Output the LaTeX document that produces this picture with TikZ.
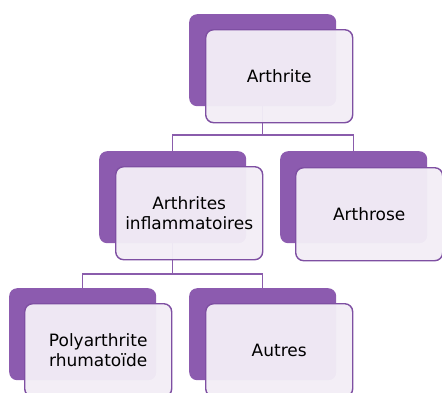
\documentclass[tikz,border=0pt]{standalone}
\usepackage{fontspec}
\setmainfont{DejaVu Sans}
\definecolor{backpurple}{HTML}{8C5BAF}
\definecolor{frontline}{HTML}{7E4FA2}
\definecolor{frontfill}{HTML}{F2EDF6}
\definecolor{connline}{HTML}{8A5CAC}
\tikzset{
  backbox/.style={rectangle, anchor=north west, minimum width=147pt, minimum height=92pt, inner sep=0pt, rounded corners=8pt, fill=backpurple, draw=none},
  frontbox/.style={rectangle, anchor=north west, minimum width=147pt, minimum height=93pt, inner sep=0pt, rounded corners=8pt, fill=frontfill, fill opacity=0.96, text opacity=1, draw=frontline, line width=1.4pt, align=center, font=\fontsize{17}{19.5}\selectfont},
  conn/.style={draw=connline, line width=1.4pt}
}
\begin{document}
\begin{tikzpicture}[x=1pt, y=-1pt]
\useasboundingbox (0,0) rectangle (442,392);
% back boxes
\node[backbox] (b1) at (189,14) {};
\node[backbox] (b2) at (99,151) {};
\node[backbox] (b3) at (280,151) {};
\node[backbox] (b4) at (9,288) {};
\node[backbox] (b5) at (189,288) {};
% junction coordinates
\coordinate (j1) at (262,135);
\coordinate (j2) at (172,274);
% connectors
\draw[conn] (b1.south) -- (b1.south |- j1);
\draw[conn] (b2.north) |- (j1) -| (b3.north);
\draw[conn] (b2.south) -- (b2.south |- j2);
\draw[conn] (b4.north) |- (j2) -| (b5.north);
% front boxes
\node[frontbox] (f1) at (205,29) {Arthrite};
\node[frontbox] (f2) at (115,166) {Arthrites\\inflammatoires};
\node[frontbox] (f3) at (295,167) {Arthrose};
\node[frontbox] (f4) at (24,303) {Polyarthrite\\rhumatoïde};
\node[frontbox] (f5) at (205,303) {Autres};
\end{tikzpicture}
\end{document}
